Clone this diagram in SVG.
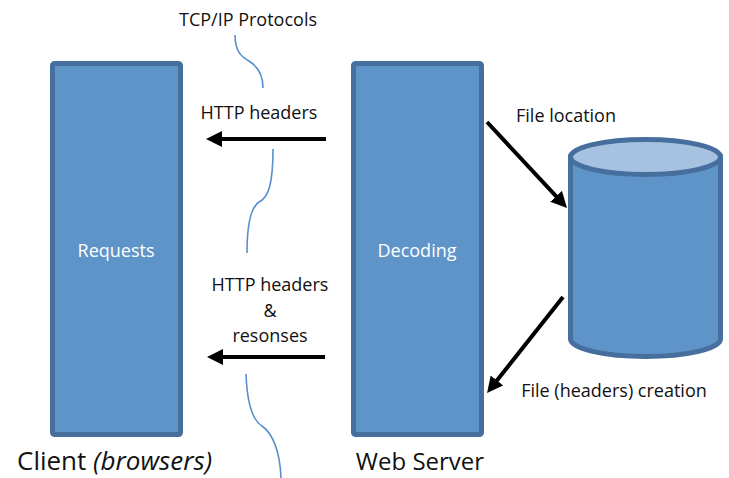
<svg xmlns="http://www.w3.org/2000/svg" width="729" height="478" viewBox="0 0 729 478">
<style>
.box{fill:#5F94C9;stroke:#466F9E;stroke-width:5}
.lbl{font-family:"Open Sans","Liberation Sans",sans-serif;font-size:18px;fill:#111;text-anchor:middle}
.in{font-family:"Open Sans","Liberation Sans",sans-serif;font-size:18px;fill:#fff;text-anchor:middle}
.big{font-family:"Open Sans","Liberation Sans",sans-serif;font-size:24px;fill:#111}
.arr{stroke:#000;stroke-width:4;fill:none;marker-end:url(#ah)}
.brace{stroke:#5A8ED0;stroke-width:1.6;fill:none}
</style>
<defs>
<marker id="ah" markerUnits="userSpaceOnUse" markerWidth="16" markerHeight="16" refX="4" refY="8" orient="auto">
<path d="M0,0 L16,8 L0,16 Z" fill="#000"/>
</marker>
</defs>
<g id="client">
<rect class="box" x="52.5" y="63.5" width="128" height="371" rx="2"/>
<text class="in" x="116" y="257">Requests</text>
<text class="big" x="17" y="470" style="font-size:26px">Client <tspan font-style="italic">(browsers)</tspan></text>
</g>
<g id="server">
<rect class="box" x="353.5" y="63.5" width="128" height="371" rx="2"/>
<text class="in" x="417" y="257">Decoding</text>
<text class="big" x="420" y="470" text-anchor="middle">Web Server</text>
</g>
<g id="storage">
<path d="M570.5,157 L570.5,339 A75,17.5 0 0 0 720.5,339 L720.5,157 Z" class="box"/>
<ellipse cx="645.5" cy="157" rx="75" ry="17.5" fill="#A7C1E0" stroke="#466F9E" stroke-width="5"/>
</g>
<g id="connectors">
<path class="brace" d="M235,35 C235,52 242,57 249,61 C257,66 263,74 263,88"/>
<path class="brace" d="M273,149 C273,185 268,198 259,202 C250,208 247,230 247,253"/>
<path class="brace" d="M246,374 C247,400 252,420 262,426 C272,433 280,450 281,478"/>
<line class="arr" x1="326" y1="139" x2="218" y2="139"/>
<line class="arr" x1="325" y1="357" x2="219" y2="357"/>
<line class="arr" x1="487" y1="122" x2="558.8" y2="199.2"/>
<line class="arr" x1="563" y1="297" x2="494.5" y2="383.6"/>
</g>
<g id="labels">
<text class="lbl" x="248" y="26">TCP/IP Protocols</text>
<text class="lbl" x="259" y="119">HTTP headers</text>
<text class="lbl" x="270" y="291">HTTP headers</text>
<text class="lbl" x="270" y="317">&amp;</text>
<text class="lbl" x="270" y="342">resonses</text>
<text class="lbl" x="566" y="122">File location</text>
<text class="lbl" x="614" y="397">File (headers) creation</text>
</g>
</svg>
